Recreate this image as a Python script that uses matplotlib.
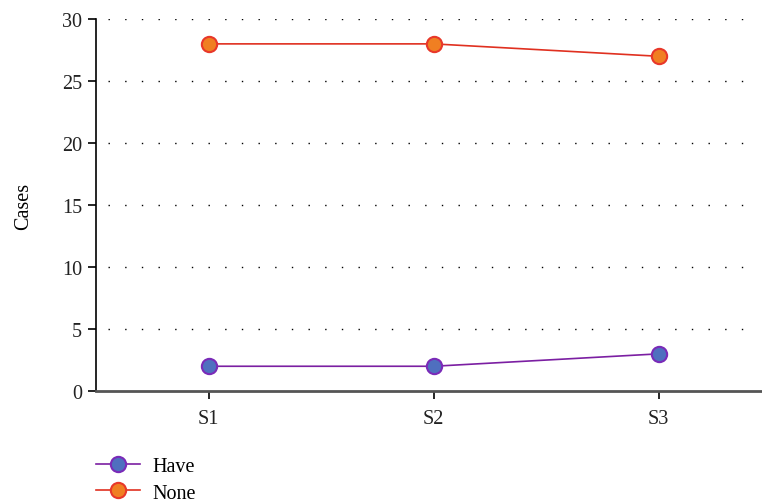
import matplotlib
matplotlib.use("Agg")
import matplotlib.pyplot as plt

categories = ["S1", "S2", "S3"]
have = [2, 2, 3]
none = [28, 28, 27]
yticks = [0, 5, 10, 15, 20, 25, 30]

plt.rcParams['font.family'] = ['Liberation Serif', 'DejaVu Serif']

fig = plt.figure(figsize=(7.62, 5.02), dpi=100)
ax = fig.add_axes([0.126, 0.219, 0.874, 0.741])

x = list(range(len(categories)))
ax.plot(x, have, color="#7b1fa2", lw=1.2, marker="o", ms=11,
        mfc="#4f6fbf", mec="#7a2bb8", mew=1.5, label="Have", zorder=3)
ax.plot(x, none, color="#e03020", lw=1.2, marker="o", ms=11,
        mfc="#f07f22", mec="#e8382a", mew=1.5, label="None", zorder=3)

ax.set_xlim(-0.5, 2.46)
ax.set_ylim(0, 30)
ax.set_yticks(yticks)
ax.set_xticks(x)
ax.set_xticklabels(categories)
for yv in yticks[1:]:
    ax.axhline(yv, xmin=0.018, xmax=0.985, color="black", lw=1.0, ls=(0, (1, 11)), zorder=1)

ax.spines['top'].set_visible(False)
ax.spines['right'].set_visible(False)
ax.spines['left'].set_color("black")
ax.spines['left'].set_linewidth(1.2)
ax.spines['bottom'].set_color("#555555")
ax.spines['bottom'].set_linewidth(2)
ax.tick_params(axis='both', labelsize=14.5, length=6, color="black", width=1.2, labelcolor="#222222")
ax.tick_params(axis='x', pad=7)
ax.tick_params(axis='y', pad=4)
ax.set_ylabel("Cases", fontsize=14.5, labelpad=21)

ax.legend(loc="upper left", bbox_to_anchor=(0.0, -0.178), frameon=False,
          fontsize=14.5, handlelength=2.2, labelspacing=0.35, handletextpad=0.6,
          borderaxespad=0, borderpad=0)

fig.savefig("out.png", dpi=100)
